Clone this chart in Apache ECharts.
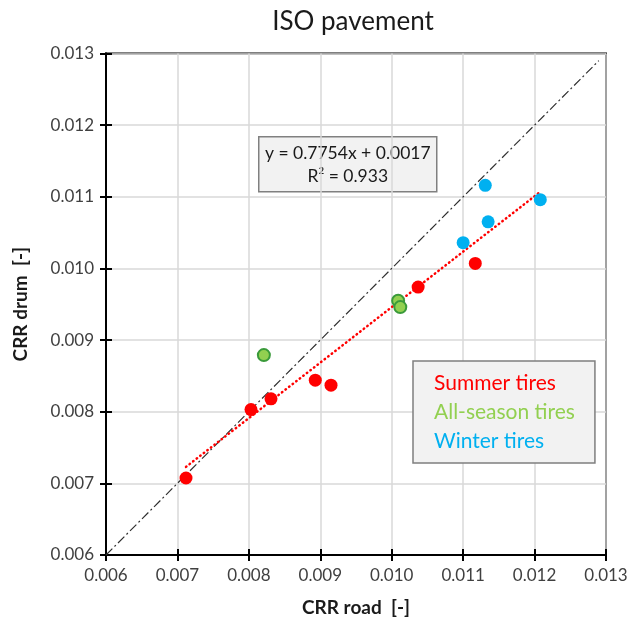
<!DOCTYPE html>
<html>
<head>
<meta charset="utf-8">
<script src="https://cdn.jsdelivr.net/npm/echarts@6/dist/echarts.min.js"></script>
<style>html,body{margin:0;padding:0;background:#fff}#c{width:640px;height:623px}</style>
</head>
<body>
<div id="c"></div>
<script>
// ---- data ----
var summerTires = [
  [0.00712, 0.007075], [0.00803, 0.00803], [0.00831, 0.00818],
  [0.00893, 0.00844], [0.00915, 0.00837], [0.01037, 0.00974],
  [0.01117, 0.01007]
];
var allSeasonTires = [
  [0.00821, 0.00879], [0.01009, 0.00955], [0.01012, 0.00946]
];
var winterTires = [
  [0.01100, 0.01036], [0.01135, 0.01065], [0.01131, 0.01116], [0.01208, 0.01096]
];
var trendLine = [[0.00712, 0.00723], [0.01208, 0.01107]];
var oneToOneLine = [[0.006, 0.006], [0.0129, 0.0129]];
var axisTicks = [0.006, 0.007, 0.008, 0.009, 0.010, 0.011, 0.012, 0.013];
var equationText = ['y = 0.7754x + 0.0017', 'R² = 0.933'];
var seriesNames = ['Summer tires', 'All-season tires', 'Winter tires'];
var seriesColors = ['#ff0000', '#92d050', '#00b0f0'];

var FONT = 'Lato, "Liberation Sans", sans-serif';
var chart = echarts.init(document.getElementById('c'), null, {renderer: 'canvas'});

function labelFmt(v) { return v.toFixed(3); }

function valAxis(main, extra) {
  var ax = {
    type: 'value',
    min: axisTicks[0], max: axisTicks[axisTicks.length - 1], interval: 0.001,
    axisLine: {show: true, onZero: false, lineStyle: {color: '#000', width: 2}},
    axisTick: {show: true, inside: !main, length: 6, lineStyle: {color: '#000', width: 2}},
    axisLabel: {show: main, color: '#404040', fontSize: 17, fontFamily: FONT, margin: 12,
      formatter: labelFmt},
    splitLine: {show: main, lineStyle: {color: '#d9d9d9', width: 1.5}}
  };
  return Object.assign(ax, extra || {});
}

var option = {
  animation: false,
  backgroundColor: '#fff',
  title: {
    text: 'ISO pavement', left: 348, top: 4, textAlign: 'center',
    textStyle: {fontSize: 26, fontWeight: 'normal', color: '#1a1a1a', fontFamily: FONT}
  },
  grid: {left: 106, right: 34, top: 53.5, bottom: 68, show: true,
    borderColor: '#000', borderWidth: 2, backgroundColor: 'transparent'},
  xAxis: [
    valAxis(true, {name: 'CRR road  [-]', nameLocation: 'middle', nameGap: 43,
      nameTextStyle: {fontSize: 19, fontWeight: 'bold', color: '#1a1a1a', fontFamily: FONT}}),
    valAxis(false, {position: 'bottom'})
  ],
  yAxis: [
    valAxis(true, {name: 'CRR drum  [-]', nameLocation: 'middle', nameGap: 76,
      nameTextStyle: {fontSize: 19, fontWeight: 'bold', color: '#1a1a1a', fontFamily: FONT}}),
    valAxis(false, {position: 'left'})
  ],
  legend: {
    orient: 'vertical', left: 413, top: 361,
    icon: 'none', itemWidth: 0, itemHeight: 10, itemTextGap: 0, itemGap: 8,
    padding: [12, 20, 11, 16],
    backgroundColor: '#f2f2f2', borderColor: '#7f7f7f', borderWidth: 1.5,
    selectedMode: false,
    data: seriesNames.map(function (n, i) {
      return {name: n, textStyle: {color: seriesColors[i], fontSize: 21, fontFamily: FONT, lineHeight: 21}};
    })
  },
  graphic: [{
    type: 'group', left: 258, top: 136,
    children: [
      {type: 'rect', shape: {x: 0, y: 0, width: 178, height: 55},
        style: {fill: '#f2f2f2', stroke: '#808080', lineWidth: 1.5}},
      {type: 'text', x: 89, y: 17, style: {text: equationText[0], fill: '#1a1a1a',
        font: '17.5px ' + FONT, align: 'center', verticalAlign: 'middle'}},
      {type: 'text', x: 89, y: 40, style: {text: equationText[1], fill: '#1a1a1a',
        font: '17.5px ' + FONT, align: 'center', verticalAlign: 'middle'}}
    ]
  }],
  series: [
    {type: 'line', data: oneToOneLine, symbol: 'none', silent: true, z: 1,
      lineStyle: {color: '#303030', width: 1.2, type: [9, 3, 2, 3]}},
    {type: 'line', data: trendLine, symbol: 'none', silent: true, z: 2,
      lineStyle: {color: '#ff0000', width: 2.5, type: [0.5, 4], cap: 'round'}},
    {name: seriesNames[0], type: 'scatter', data: summerTires, symbolSize: 13, z: 3,
      itemStyle: {color: seriesColors[0], opacity: 1}},
    {name: seriesNames[1], type: 'scatter', data: allSeasonTires, symbolSize: 12, z: 3,
      itemStyle: {color: seriesColors[1], borderColor: '#3a9a3a', borderWidth: 2, opacity: 1}},
    {name: seriesNames[2], type: 'scatter', data: winterTires, symbolSize: 13, z: 3,
      itemStyle: {color: seriesColors[2], opacity: 1}}
  ]
};
chart.setOption(option);
</script>
</body>
</html>
